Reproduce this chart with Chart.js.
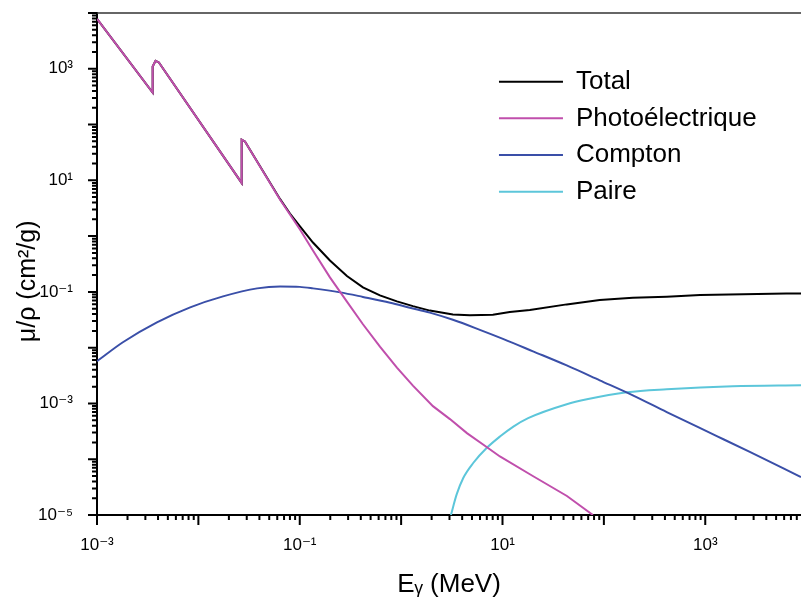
<!DOCTYPE html>
<html>
<head>
<meta charset="utf-8">
<script src="https://cdn.jsdelivr.net/npm/chart.js@4.4.0/dist/chart.umd.min.js"></script>
<style>
  html, body { margin: 0; padding: 0; background: #fff; }
  #wrap { width: 801px; height: 606px; }
</style>
</head>
<body>
<div id="wrap"><canvas id="chart"></canvas></div>
<script>
// Energies in MeV, mass attenuation mu/rho in cm2/g
const totalE  = [0.001, 0.00354, 0.00354, 0.00378, 0.00408, 0.02673, 0.02673, 0.0288, 0.0638, 0.080, 0.1005, 0.135, 0.1985, 0.292, 0.420, 0.618, 0.909, 1.307, 1.92, 3.24, 4.77, 8.04, 11.8, 18.6, 43, 91, 193, 417, 890, 6300, 8800];
const totalMu = [7820, 375, 1095, 1384, 1300, 8.98, 53.5, 49.9, 4.64, 2.54, 1.49, 0.767, 0.366, 0.193, 0.1205, 0.0865, 0.0676, 0.0555, 0.0462, 0.0395, 0.038, 0.0388, 0.0435, 0.0472, 0.0597, 0.0713, 0.0787, 0.082, 0.0877, 0.094, 0.094];

const photoE  = [0.001, 0.00354, 0.00354, 0.00378, 0.00408, 0.02673, 0.02673, 0.0288, 0.0638, 0.1005, 0.1349, 0.1985, 0.292, 0.420, 0.618, 0.909, 1.307, 2.059, 3.03, 4.457, 6.86, 9.43, 19.9, 43.2, 78];
const photoMu = [7820, 375, 1095, 1384, 1300, 8.98, 53.5, 49.9, 4.52, 1.31, 0.553, 0.182, 0.0668, 0.0263, 0.0104, 0.0044, 0.00209, 0.000895, 0.000524, 0.000294, 0.000169, 0.000112, 0.00005, 0.0000219, 0.00001];

const comptonE  = [0.001, 0.0018, 0.0039, 0.0083, 0.0175, 0.038, 0.064, 0.10, 0.135, 0.25, 0.42, 0.78, 1.22, 1.92, 3.24, 5.98, 10.1, 20, 43, 91, 193, 417, 1300, 2750, 8800];
const comptonMu = [0.0057, 0.0125, 0.0284, 0.0528, 0.083, 0.1156, 0.125, 0.123, 0.1156, 0.098, 0.0813, 0.0641, 0.0521, 0.0425, 0.0316, 0.0209, 0.0144, 0.0086, 0.0048, 0.0026, 0.0014, 0.0007, 0.00026, 0.000135, 0.000048];

const pairE  = [3.1, 3.53, 4.10, 5.14, 6.97, 9.43, 12.8, 17.9, 43, 68, 169, 417, 1870, 8800];
const pairMu = [0.00001, 0.0000234, 0.0000461, 0.0000855, 0.0001585, 0.000255, 0.000385, 0.000546, 0.00097, 0.00119, 0.00159, 0.0018, 0.00204, 0.00212];

const seriesNames = ['Total', 'Photoélectrique', 'Compton', 'Paire'];
const xLabelPowers = [-3, -1, 1, 3];
const yLabelPowers = [-5, -3, -1, 1, 3];

const FONT = '"Liberation Sans", Arial, "DejaVu Sans", sans-serif';

const SUP = {'-': '\u207b', '0': '\u2070', '1': '\u00b9', '2': '\u00b2', '3': '\u00b3',
  '4': '\u2074', '5': '\u2075', '6': '\u2076', '7': '\u2077', '8': '\u2078', '9': '\u2079'};
const pow10Label = p => '10' + String(p).split('').map(c => SUP[c]).join('');

const pts = (xs, ys) => xs.map((x, i) => ({x: x, y: ys[i]}));

// one tick per 1..9 x decade; decades are major
function decadeTicks(scale, lo, hi) {
  const ticks = [];
  for (let p = lo; p <= hi; p++) {
    for (let m = 1; m <= 9; m++) {
      const v = m * Math.pow(10, p);
      if (v >= scale.min * 0.999 && v <= scale.max * 1.001) ticks.push({value: v, major: m === 1});
    }
  }
  scale.ticks = ticks;
}

function labelFor(powers) {
  return (value, index, ticks) => {
    if (!ticks[index].major) return '';
    const p = Math.round(Math.log10(value));
    return powers.includes(p) ? pow10Label(p) : '';
  };
}

// outward tick marks + the top frame line
const tickMarks = {
  id: 'tickMarks',
  afterDraw(chart) {
    const {ctx, chartArea} = chart;
    const xs = chart.scales.x, ys = chart.scales.y;
    ctx.save();
    ctx.strokeStyle = '#000';
    ctx.lineWidth = 2;
    ctx.beginPath();
    xs.ticks.forEach(t => {
      const px = xs.getPixelForValue(t.value);
      ctx.moveTo(px, xs.top);
      ctx.lineTo(px, xs.top + (t.major ? 10 : 5));
    });
    ys.ticks.forEach(t => {
      const py = ys.getPixelForValue(t.value);
      ctx.moveTo(ys.right, py);
      ctx.lineTo(ys.right - (t.major ? 9 : 5), py);
    });
    ctx.stroke();
    ctx.strokeStyle = '#333';
    ctx.lineWidth = 1.5;
    ctx.beginPath();
    ctx.moveTo(chartArea.left, chartArea.top);
    ctx.lineTo(chartArea.right, chartArea.top);
    ctx.stroke();
    ctx.restore();
  }
};

// legend sits inside the plot, upper right
const placeLegend = {
  id: 'placeLegend',
  afterUpdate(chart) {
    const lg = chart.legend;
    if (!lg) return;
    lg.left = 488.3; lg.top = 58; lg.width = 312; lg.height = 200;
    lg.right = lg.left + lg.width; lg.bottom = lg.top + lg.height;
  }
};

const line = (label, data, color, extra) => Object.assign({
  label: label,
  data: data,
  borderColor: color,
  backgroundColor: color,
  borderWidth: 2,
  pointRadius: 0,
  fill: false,
  tension: 0
}, extra || {});

new Chart(document.getElementById('chart'), {
  type: 'line',
  data: {
    datasets: [
      line(seriesNames[0], pts(totalE, totalMu), '#000000', {order: 4}),
      line(seriesNames[1], pts(photoE, photoMu), '#c04fac', {order: 1}),
      line(seriesNames[2], pts(comptonE, comptonMu), '#3a4fa8', {order: 2, cubicInterpolationMode: 'monotone'}),
      line(seriesNames[3], pts(pairE, pairMu), '#5cc6da', {order: 3, cubicInterpolationMode: 'monotone'})
    ]
  },
  options: {
    responsive: true,
    maintainAspectRatio: false,
    animation: false,
    events: [],
    layout: { padding: { left: 0, right: 0, top: 13, bottom: 0 } },
    plugins: {
      tooltip: { enabled: false },
      legend: {
        position: 'chartArea',
        align: 'start',
        labels: {
          usePointStyle: true,
          pointStyle: 'line',
          pointStyleWidth: 64,
          padding: 10.67,
          color: '#000',
          font: { family: FONT, size: 26 },
          sort: (a, b) => a.datasetIndex - b.datasetIndex
        }
      }
    },
    scales: {
      x: {
        type: 'logarithmic',
        position: 'bottom',
        min: 0.001,
        max: 8800,
        bounds: 'data',
        afterBuildTicks: s => decadeTicks(s, -3, 3),
        afterFit: s => { s.height = 91; },
        // tick marks are drawn by the plugin; tickLength only spaces the labels
        grid: { display: false, drawTicks: true, tickLength: 20 },
        border: { display: true, color: '#000', width: 2 },
        ticks: {
          autoSkip: false, minRotation: 0, maxRotation: 0,
          padding: 0, color: '#000',
          font: { family: FONT, size: 17 },
          callback: labelFor(xLabelPowers)
        },
        title: {
          display: true, text: 'E\u1d67 (MeV)', color: '#000',
          font: { family: FONT, size: 26 },
          padding: { top: 0, bottom: 6 }
        }
      },
      y: {
        type: 'logarithmic',
        min: 0.00001,
        max: 10000,
        bounds: 'data',
        afterBuildTicks: s => decadeTicks(s, -5, 4),
        afterFit: s => { s.width = 97; },
        grid: { display: false, drawTicks: true, tickLength: 24 },
        border: { display: true, color: '#000', width: 2 },
        ticks: {
          autoSkip: false,
          padding: 0, color: '#000',
          font: { family: FONT, size: 17 },
          callback: labelFor(yLabelPowers)
        },
        title: {
          display: true, text: 'μ/ρ (cm²/g)\u00a0\u00a0\u00a0\u00a0\u00a0', color: '#000',
          font: { family: FONT, size: 25 },
          padding: { top: 13, bottom: 0 }
        }
      }
    }
  },
  plugins: [tickMarks, placeLegend]
});
</script>
</body>
</html>
